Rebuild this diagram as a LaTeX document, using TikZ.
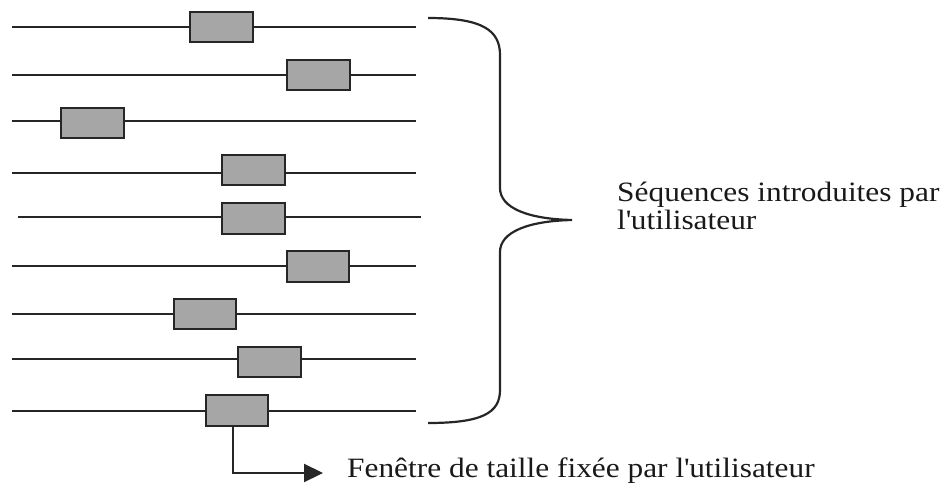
\documentclass[tikz,border=0pt]{standalone}
\usepackage{fontspec}
\setmainfont[FakeStretch=1.12]{Liberation Serif}
\usetikzlibrary{arrows.meta}

\tikzset{
  seqline/.style={line width=2.2pt, black!85},
  window/.style={draw=black!85, line width=2.4pt, fill=black!35,
                 minimum width=62.5pt, minimum height=30.5pt, inner sep=0pt},
  label/.style={inner sep=0pt, anchor=base west,
                font=\fontsize{28}{30}\selectfont, text=black!90},
  bracepath/.style={line width=2.2pt, black!85},
  pointer/.style={line width=2.2pt, black!85,
                  -{Triangle[length=19pt,width=18pt]}}
}

\begin{document}
\begin{tikzpicture}[x=1pt,y=-1pt]
\useasboundingbox (0,0) rectangle (952,489);

% user sequences
\draw[seqline] (12,27)  -- (416,27);
\draw[seqline] (12,75)  -- (416,75);
\draw[seqline] (12,121) -- (416,121);
\draw[seqline] (12,173) -- (416,173);
\draw[seqline] (18,217) -- (421,217);
\draw[seqline] (12,266) -- (416,266);
\draw[seqline] (12,314) -- (416,314);
\draw[seqline] (12,359) -- (416,359);
\draw[seqline] (12,411) -- (416,411);

% fixed-size windows
\node[window] (w1) at (221.5,27)  {};
\node[window] (w2) at (318.5,75)  {};
\node[window] (w3) at (92.5,123)  {};
\node[window] (w4) at (253.5,170) {};
\node[window] (w5) at (253.5,218.5) {};
\node[window] (w6) at (318,266.5) {};
\node[window] (w7) at (205,314)   {};
\node[window] (w8) at (269.5,362) {};
\node[window] (w9) at (237,410.5) {};

% curly brace grouping the sequences
\coordinate (btop) at (428,18);
\coordinate (btip) at (572,220);
\coordinate (bbot) at (428,423);
\draw[bracepath] (btop) .. controls (482,18) and (500,30) .. (500,55)
  -- (500,188) .. controls (500,208) and (528,219) .. (btip)
  .. controls (528,221) and (500,232) .. (500,252)
  -- (500,390) .. controls (500,413) and (482,423) .. (bbot);

\node[label] (seqA) at (617,201) {Séquences introduites par};
\node[label] (seqB) at (617,229) {l\textquotesingle utilisateur};

% pointer to the window caption
\node[label] (win) at (347,477) {Fenêtre de taille fixée par l\textquotesingle utilisateur};
\coordinate (bend) at (233,473);
\draw[pointer] ([xshift=-4pt]w9.south) -- (bend) -- ([xshift=-24pt]win.base west |- bend);

\end{tikzpicture}
\end{document}
